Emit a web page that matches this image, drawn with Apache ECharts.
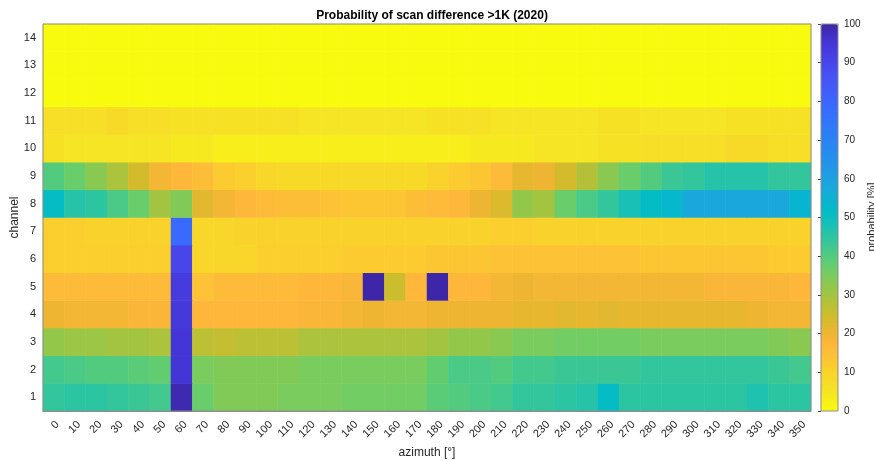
<!DOCTYPE html>
<html><head><meta charset="utf-8">
<script src="https://cdn.jsdelivr.net/npm/echarts@6/dist/echarts.min.js"></script>
<style>html,body{margin:0;padding:0;background:#fff}#c{width:874px;height:461px}</style>
</head><body><div id="c"></div>
<script>
// ---- data ----
const azimuthLabels = ['0','10','20','30','40','50','60','70','80','90','100','110','120','130','140','150','160','170','180','190','200','210','220','230','240','250','260','270','280','290','300','310','320','330','340','350'];
const channelLabels = ['1','2','3','4','5','6','7','8','9','10','11','12','13','14'];
const colorbarTicks = [0,10,20,30,40,50,60,70,80,90,100];

const ch1  = [44,45,45,44,43,42,99,37,34,34,34,35,35,35,36,36,36,36,39,40,41,42,44,44,45,46,51,45,45,45,45,45,45,47,45,45];
const ch2  = [42,41,40,40,39,38,95,35,34,34,34,34,35,35,35,35,35,35,38,41,41,40,42,42,43,43,43,43,44,44,44,44,44,44,43,42];
const ch3  = [32,31,31,30,30,29,95,27,26,27,27,27,29,29,29,29,29,29,30,32,32,33,35,35,36,36,36,36,35,35,35,35,35,35,34,33];
const ch4  = [20,19,19,19,18,18,94,17,17,17,17,17,18,18,19,20,19,19,20,20,20,20,21,21,22,21,22,21,21,21,21,21,21,20,19,19];
const ch5  = [16,16,16,16,16,16,93,14,16,16,16,16,17,17,18,100,25,17,100,17,17,19,20,19,19,19,19,19,19,19,19,18,18,18,18,17];
const ch6  = [11,11,11,11,11,11,90,9,9,9,11,11,11,11,12,12,12,12,13,13,13,14,14,14,14,14,14,14,13,13,13,13,13,13,12,12];
const ch7  = [11,11,10,10,10,10,79,9,9,10,10,10,10,10,10,10,10,10,10,10,10,11,11,10,10,10,10,10,10,10,10,10,10,10,10,10];
const ch8  = [51,46,45,41,37,30,34,22,19,17,16,15,15,14,13,13,13,15,16,17,20,23,32,30,37,41,44,48,51,53,58,58,58,58,58,54];
const ch9  = [40,37,33,29,24,19,17,15,12,11,9,8,8,8,8,8,8,8,10,12,13,16,21,20,24,28,33,37,40,43,44,46,46,46,44,44];
const ch10 = [6,5,5,5,5,5,4,4,3,3,3,3,3,3,3,3,3,3,3,3,4,4,4,5,5,5,6,6,7,7,7,7,8,8,7,7];
const ch11 = [7,7,7,8,7,7,6,6,6,6,6,6,5,5,5,5,5,5,6,6,6,5,5,5,5,5,6,6,5,5,5,5,6,6,6,6];
const ch12 = [0,0,0,0,0,0,0,0,0,0,0,0,0,0,0,0,0,0,0,0,0,0,0,0,0,0,0,0,0,0,0,0,0,0,0,0];
const ch13 = [0,0,0,0,0,0,0,0,0,0,0,0,0,0,0,0,0,0,0,0,0,0,0,0,0,0,0,0,0,0,0,0,0,0,0,0];
const ch14 = [0,0,0,0,0,0,0,0,0,0,0,0,0,0,0,0,0,0,0,0,0,0,0,0,0,0,0,0,0,0,0,0,0,0,0,0];

const rows = [ch1,ch2,ch3,ch4,ch5,ch6,ch7,ch8,ch9,ch10,ch11,ch12,ch13,ch14];
const heatData = [];
rows.forEach((r, yi) => r.forEach((v, xi) => heatData.push([xi, yi, v])));

// ---- reversed parula-like colormap ----
const stops = [
  [0,'#f9fb0e'],[5,'#f5e524'],[10,'#f9d32b'],[14,'#fdc235'],[17,'#feb73b'],[20,'#eeb532'],
  [24,'#d4bb2b'],[28,'#b4c138'],[32,'#92c74a'],[36,'#72cd64'],[40,'#52cb7e'],[44,'#33c69c'],
  [48,'#18c0b5'],[51,'#05bcc4'],[54,'#08b5d0'],[58,'#1aa8dc'],[64,'#2293e9'],[70,'#2a83f4'],
  [76,'#3472fb'],[80,'#3c66ff'],[86,'#4654f4'],[90,'#4846ea'],[95,'#4436d6'],[100,'#3e26a8']
];
function hex(c){return [parseInt(c.slice(1,3),16),parseInt(c.slice(3,5),16),parseInt(c.slice(5,7),16)];}
const cmap = [];
for (let v = 0; v <= 100; v++) {
  let i = 0; while (i < stops.length - 2 && v > stops[i+1][0]) i++;
  const [v0,c0] = stops[i], [v1,c1] = stops[i+1];
  const t = (v - v0) / (v1 - v0);
  const a = hex(c0), b = hex(c1);
  const m = a.map((x,k) => Math.round(x + (b[k]-x)*t));
  cmap.push('rgb(' + m.join(',') + ')');
}

const FONT = "'Liberation Sans', Arial, Helvetica, sans-serif";
const TXT = '#262626';
const chart = echarts.init(document.getElementById('c'), null, {renderer:'canvas'});
chart.setOption({
  animation: false,
  backgroundColor: '#fff',
  textStyle: {fontFamily: FONT},
  title: {
    text: 'Probability of scan difference >1K (2020)',
    left: 427, top: 5, textAlign: 'center',
    textStyle: {fontSize: 12, fontWeight: 'bold', color: '#000', fontFamily: FONT}
  },
  grid: [
    {left: 43, top: 24, width: 768, height: 387, show: true, borderColor: '#8c8c8c', borderWidth: 1, backgroundColor: 'transparent', z: 10, containLabel: false, outerBoundsMode: 'none'},
    {left: 821, top: 24, width: 17, height: 387, show: true, borderColor: '#8c8c8c', borderWidth: 1, backgroundColor: 'transparent', z: 10, containLabel: false, outerBoundsMode: 'none'}
  ],
  xAxis: [
    {type: 'category', gridIndex: 0, data: azimuthLabels,
     name: 'azimuth [°]', nameLocation: 'middle', nameGap: 36,
     nameTextStyle: {fontSize: 12, color: TXT, fontFamily: FONT},
     axisLine: {lineStyle: {color: '#8c8c8c'}}, axisTick: {show: false},
     axisLabel: {interval: 0, rotate: 45, fontSize: 11, color: TXT, margin: 8, align: 'right', verticalAlign: 'top', fontFamily: FONT},
     splitLine: {show: false}},
    {type: 'value', gridIndex: 1, min: 0, max: 1, show: false}
  ],
  yAxis: [
    {type: 'category', gridIndex: 0, data: channelLabels,
     name: 'channel', nameLocation: 'middle', nameGap: 22, nameMoveOverlap: false,
     nameTextStyle: {fontSize: 12, color: TXT, fontFamily: FONT},
     axisLine: {lineStyle: {color: '#8c8c8c'}}, axisTick: {show: false},
     axisLabel: {fontSize: 11, color: TXT, margin: 7, fontFamily: FONT},
     splitLine: {show: false}},
    {type: 'value', gridIndex: 1, min: 0, max: 100, interval: 10, position: 'right',
     axisLine: {show: false},
     axisTick: {show: true, inside: true, length: 3, lineStyle: {color: '#444'}},
     axisLabel: {fontSize: 10, color: TXT, margin: 6, fontFamily: FONT,
       formatter: v => colorbarTicks.includes(v) ? String(v) : ''},
     splitLine: {show: false}}
  ],
  visualMap: {
    type: 'continuous', min: 0, max: 100, seriesIndex: 0, orient: 'vertical',
    left: 821, top: 24, itemWidth: 17, itemHeight: 387, padding: 0,
    calculable: false, hoverLink: false, text: null,
    inRange: {color: cmap}
  },
  graphic: [
    {type: 'text', x: 872, y: 217, rotation: Math.PI/2,
     style: {text: 'probability [%]', fontSize: 11, fill: TXT, fontFamily: FONT, align: 'center', verticalAlign: 'middle'}}
  ],
  series: [
    {type: 'heatmap', xAxisIndex: 0, yAxisIndex: 0, data: heatData,
     itemStyle: {borderWidth: 0}, emphasis: {disabled: true}, progressive: 0},
    {type: 'line', xAxisIndex: 1, yAxisIndex: 1, data: [], silent: true}
  ]
});
</script></body></html>
